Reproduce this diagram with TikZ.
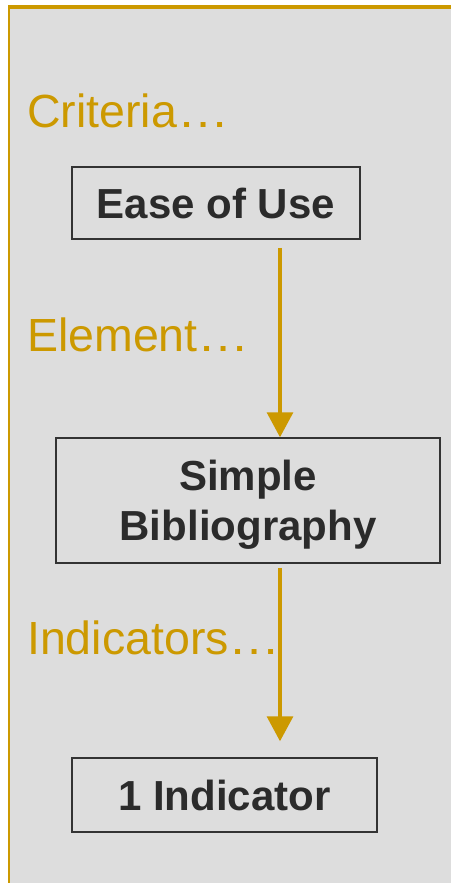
\documentclass[tikz,border=0pt]{standalone}
\usepackage{fontspec}
\setmainfont{Liberation Sans}
\usetikzlibrary{arrows.meta}
\definecolor{gold}{HTML}{CC9900}
\definecolor{bggray}{HTML}{DDDDDD}
\definecolor{ink}{HTML}{2B2B2B}
\definecolor{boxline}{HTML}{333333}
\newcommand{\wideell}{\scalebox{1.12}[1]{…}}
\tikzset{
  label/.style={anchor=base west, inner sep=0pt, text=gold, font=\fontsize{46.5}{52}\selectfont},
  stepbox/.style={draw=boxline, line width=1.5pt, inner sep=0pt, text=ink,
    font=\bfseries\fontsize{42}{50}\selectfont, align=center},
  conn/.style={draw=gold, line width=3.3pt, -{Triangle[width=26pt,length=25pt]}}
}
\begin{document}
\begin{tikzpicture}[x=1pt,y=-1pt]
\useasboundingbox (0,0) rectangle (451,883);
\fill[white] (0,0) rectangle (451,883);
\fill[bggray] (9,6) rectangle (451,883);
\fill[gold] (8,5) rectangle (451,9);
\fill[gold] (8,5) rectangle (10,883);

\node[label] (crit) at (27,127) {Criteria\wideell};
\node[label] (elem) at (27,351) {Element\wideell};
\node[label] (indi) at (27,654) {Indicators\wideell};

\node[stepbox, minimum width=288pt, minimum height=72pt, text height=30pt, text depth=0pt] (ease) at (216,203) {Ease of Use};
\node[stepbox, minimum width=384pt, minimum height=125pt, text depth=0pt] (bib) at (248,500.5) {Simple\\Bibliography};
\node[stepbox, minimum width=305pt, minimum height=74pt, text height=30pt, text depth=0pt] (ind) at (224.5,795) {1 Indicator};

\coordinate (ax) at (280,0);
\draw[conn] ([yshift=-8pt]ease.south -| ax) -- (bib.north -| ax);
\draw[conn] ([yshift=-4pt]bib.south -| ax) -- ([yshift=16pt]ind.north -| ax);
\end{tikzpicture}
\end{document}
